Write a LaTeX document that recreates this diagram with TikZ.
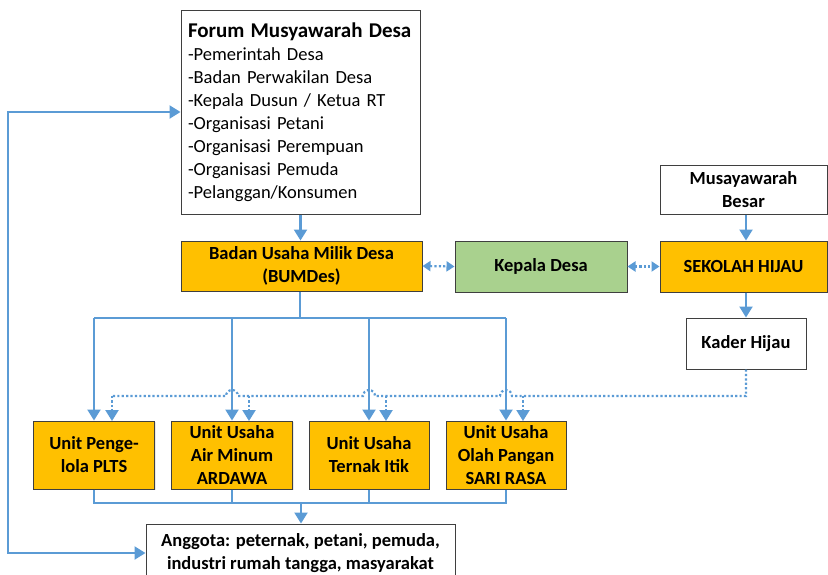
\documentclass[tikz,border=0pt]{standalone}
\usepackage{fontspec}
\setmainfont{Carlito}
\usetikzlibrary{arrows.meta,shadows}
\definecolor{flow}{HTML}{5B9BD5}
\definecolor{unitfill}{HTML}{FFC000}
\definecolor{headfill}{HTML}{A9D18E}
\definecolor{edge}{HTML}{3F3F3F}
\begin{document}
\begin{tikzpicture}[x=1pt,y=-1pt,
  box/.style={draw=edge, line width=1pt, align=center, inner sep=0pt,
    font=\bfseries\fontsize{18.5}{23}\selectfont,
    drop shadow={opacity=0.18, shadow xshift=1.2pt, shadow yshift=-1.2pt}},
  plainbox/.style={box, fill=white},
  unitbox/.style={box, fill=unitfill},
  headbox/.style={box, fill=headfill},
  bigtip/.tip={Triangle[width=13pt,length=11pt]},
  smalltip/.tip={Triangle[width=10pt,length=8pt]},
  wire/.style={draw=flow, line width=2.2pt},
  link/.style={wire, -bigtip},
  dotline/.style={wire, dash pattern=on 2.2pt off 2.2pt},
  dotlink/.style={dotline, -bigtip},
  duallink/.style={dotline, smalltip-smalltip}
]
\useasboundingbox (0,0) rectangle (828,574);

% council and its members
\node[plainbox, minimum width=239pt, minimum height=204pt, text width=225pt,
      align=left, font=\fontsize{18.5}{23}\selectfont] (forum) at (300.5,112)
  {{\bfseries\fontsize{21}{23}\selectfont Forum Musyawarah Desa}\\
   -Pemerintah Desa\\
   -Badan Perwakilan Desa\\
   -Kepala Dusun / Ketua RT\\
   -Organisasi Petani\\
   -Organisasi Perempuan\\
   -Organisasi Pemuda\\
   -Pelanggan/Konsumen};

% middle row
\node[unitbox, minimum width=241pt, minimum height=50pt] (bumdes) at (301.5,266)
  {Badan Usaha Milik Desa\\(BUMDes)};
\node[headbox, minimum width=172pt, minimum height=51pt] (kades) at (541,266.5)
  {Kepala Desa};
\node[unitbox, minimum width=167pt, minimum height=51pt] (sekolah) at (743.5,266.5)
  {SEKOLAH HIJAU};
\node[plainbox, minimum width=167pt, minimum height=49pt] (musbes) at (743.5,189.5)
  {Musayawarah\\Besar};
\node[plainbox, minimum width=120pt, minimum height=51pt] (kader) at (746,343.5)
  {Kader Hijau};

% business units
\node[unitbox, minimum width=121pt, minimum height=68pt] (u1) at (94,455)
  {Unit Penge-\\lola PLTS};
\node[unitbox, minimum width=121pt, minimum height=68pt] (u2) at (232,455)
  {Unit Usaha\\Air Minum\\ARDAWA};
\node[unitbox, minimum width=120pt, minimum height=68pt] (u3) at (369,455)
  {Unit Usaha\\Ternak Itik};
\node[unitbox, minimum width=120pt, minimum height=68pt] (u4) at (506,455)
  {Unit Usaha\\Olah Pangan\\SARI RASA};

% members
\node[plainbox, minimum width=309pt, minimum height=58pt] (anggota) at (300.5,553)
  {Anggota: peternak, petani, pemuda,\\industri rumah tangga, masyarakat};

% forum to BUMDes
\draw[link] (forum.south) -- (forum.south |- bumdes.north);

% BUMDes to each unit
\coordinate (busA) at (300,318);
\draw[wire] (bumdes.south -| busA) -- (busA);
\draw[wire] (busA -| u1.north) -- (busA -| u4.north);
\draw[link] (busA -| u1.north) -- (u1.north);
\draw[link] (busA -| u2.north) -- (u2.north);
\draw[link] (busA -| u3.north) -- (u3.north);
\draw[link] (busA -| u4.north) -- (u4.north);

% coordination links
\draw[duallink] (bumdes.east) -- (kades.west);
\draw[duallink] (kades.east) -- (sekolah.west);

% green school chain
\draw[link] (musbes.south -| kader.north) -- (sekolah.north -| kader.north);
\draw[link] (sekolah.south -| kader.north) -- (kader.north);

% cadre support to units (dotted, hopping over solid lines)
\coordinate (dotR) at (746,396);
\draw[dotline] (kader.south) -- (dotR)
  -- (512,396) arc[start angle=0,end angle=180,radius=6pt]
  -- (375,396) arc[start angle=0,end angle=180,radius=6pt]
  -- (238,396) arc[start angle=0,end angle=180,radius=6pt]
  -- (112,396);
\draw[dotlink] (112,396) -- (112,421);
\draw[dotlink] (249,396) -- (249,421);
\draw[dotlink] (386,396) -- (386,421);
\draw[dotlink] (523,396) -- (523,421);

% units to members
\coordinate (busB) at (301,503);
\draw[wire] (u1.south) -- (u1.south |- busB) -- (u4.south |- busB) -- (u4.south);
\draw[wire] (u2.south) -- (u2.south |- busB);
\draw[wire] (u3.south) -- (u3.south |- busB);
\draw[link] (busB) -- (busB |- anggota.north);

% feedback loop between members and forum
\coordinate (loopC) at (8,553);
\draw[wire, bigtip-bigtip] (anggota.west) -- (loopC) |- (forum.west);
\end{tikzpicture}
\end{document}
